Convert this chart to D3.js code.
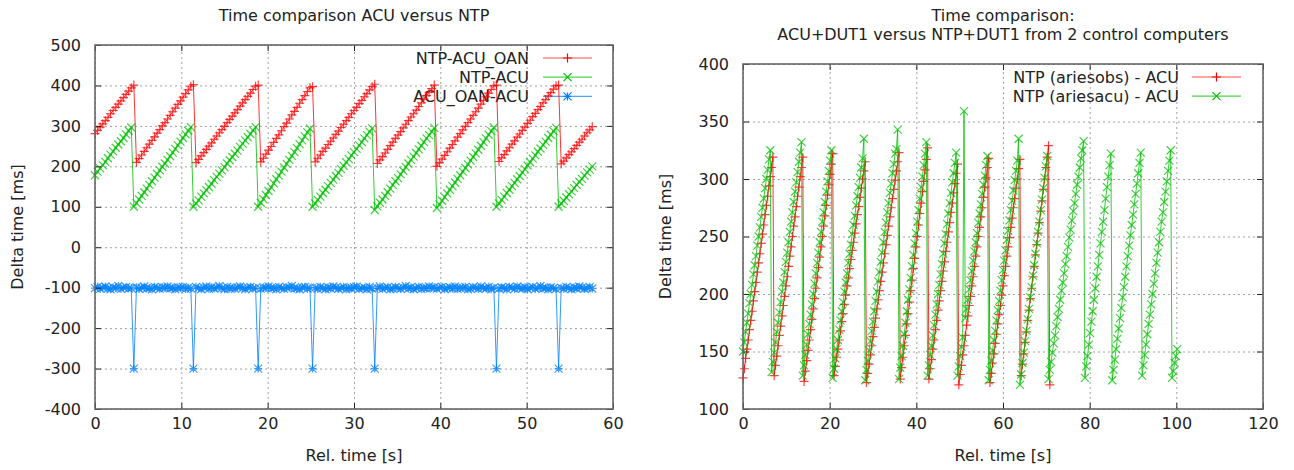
<!DOCTYPE html>
<html>
<head>
<meta charset="utf-8">
<script src="https://cdn.jsdelivr.net/npm/d3@7"></script>
<style>
  body { margin: 0; background: #fff; }
  svg text { font-family: "DejaVu Sans", sans-serif; fill: #222; }
</style>
</head>
<body>
<svg id="chart" width="1294" height="470"></svg>
<script>
// Sample times [s], common to every logged series
const sampleTime = [
  0,0.3,0.6,0.9,1.2,1.5,1.8,2.1,2.4,2.7,
  3,3.3,3.6,3.9,4.2,4.5,4.8,5.1,5.4,5.7,
  6,6.3,6.6,6.9,7.2,7.5,7.8,8.1,8.4,8.7,
  9,9.3,9.6,9.9,10.2,10.5,10.8,11.1,11.4,11.7,
  12,12.3,12.6,12.9,13.2,13.5,13.8,14.1,14.4,14.7,
  15,15.3,15.6,15.9,16.2,16.5,16.8,17.1,17.4,17.7,
  18,18.3,18.6,18.9,19.2,19.5,19.8,20.1,20.4,20.7,
  21,21.3,21.6,21.9,22.2,22.5,22.8,23.1,23.4,23.7,
  24,24.3,24.6,24.9,25.2,25.5,25.8,26.1,26.4,26.7,
  27,27.3,27.6,27.9,28.2,28.5,28.8,29.1,29.4,29.7,
  30,30.3,30.6,30.9,31.2,31.5,31.8,32.1,32.4,32.7,
  33,33.3,33.6,33.9,34.2,34.5,34.8,35.1,35.4,35.7,
  36,36.3,36.6,36.9,37.2,37.5,37.8,38.1,38.4,38.7,
  39,39.3,39.6,39.9,40.2,40.5,40.8,41.1,41.4,41.7,
  42,42.3,42.6,42.9,43.2,43.5,43.8,44.1,44.4,44.7,
  45,45.3,45.6,45.9,46.2,46.5,46.8,47.1,47.4,47.7,
  48,48.3,48.6,48.9,49.2,49.5,49.8,50.1,50.4,50.7,
  51,51.3,51.6,51.9,52.2,52.5,52.8,53.1,53.4,53.7,
  54,54.3,54.6,54.9,55.2,55.5,55.8,56.1,56.4,56.7,
  57,57.3,57.6,57.9,58.2,58.5,58.8,59.1,59.4,59.7,
  60,60.3,60.6,60.9,61.2,61.5,61.8,62.1,62.4,62.7,
  63,63.3,63.6,63.9,64.2,64.5,64.8,65.1,65.4,65.7,
  66,66.3,66.6,66.9,67.2,67.5,67.8,68.1,68.4,68.7,
  69,69.3,69.6,69.9,70.2,70.5,70.8,71.1,71.4,71.7,
  72,72.3,72.6,72.9,73.2,73.5,73.8,74.1,74.4,74.7,
  75,75.3,75.6,75.9,76.2,76.5,76.8,77.1,77.4,77.7,
  78,78.3,78.6,78.9,79.2,79.5,79.8,80.1,80.4,80.7,
  81,81.3,81.6,81.9,82.2,82.5,82.8,83.1,83.4,83.7,
  84,84.3,84.6,84.9,85.2,85.5,85.8,86.1,86.4,86.7,
  87,87.3,87.6,87.9,88.2,88.5,88.8,89.1,89.4,89.7,
  90,90.3,90.6,90.9,91.2,91.5,91.8,92.1,92.4,92.7,
  93,93.3,93.6,93.9,94.2,94.5,94.8,95.1,95.4,95.7,
  96,96.3,96.6,96.9,97.2,97.5,97.8,98.1,98.4,98.7,
  99,99.3,99.6,99.9,100.2
];

// Left panel: NTP-ACU_OAN [ms]
const ntpAcuOan = [
  281,289,297,305,313,321,330,338,346,354,362,370,378,386,394,
  401,
  210,219,228,237,246,255,264,273,282,291,300,308,317,326,335,344,353,362,371,380,389,398,
  402,
  209,217,226,234,242,250,258,267,275,283,291,299,308,316,324,332,340,349,357,365,373,381,390,398,
  401,
  211,220,230,240,249,259,269,278,288,298,307,317,327,336,346,356,365,375,385,394,
  397,
  211,220,228,237,245,254,262,270,279,287,296,304,313,321,330,338,346,355,363,372,380,389,397,
  403,
  207,216,224,233,242,251,260,269,277,286,295,304,313,322,330,339,348,357,366,375,383,392,401,
  200,209,218,227,236,245,254,263,272,281,290,299,308,317,326,335,344,354,363,372,381,390,399,
  401,
  212,221,229,238,246,255,263,272,280,289,297,306,314,323,331,340,348,357,365,374,382,391,399,
  401,
  206,213,221,229,236,244,252,260,267,275,283,290,298
];

// Left panel: NTP-ACU [ms]
const ntpAcu = [
  178,187,195,203,211,220,229,237,246,254,262,270,279,288,296,
  100,109,118,127,136,145,154,163,172,181,190,199,207,216,225,234,243,252,261,270,279,288,297,
  100,108,116,125,133,141,149,157,166,174,182,190,198,207,215,223,231,239,248,256,264,272,280,289,297,
  100,110,119,129,139,148,158,168,177,187,197,206,216,226,235,245,255,264,274,284,293,
  100,108,117,125,134,142,151,159,167,176,184,193,201,210,218,227,235,243,252,260,269,277,286,294,
  92,101,110,118,127,136,145,154,163,171,180,189,198,207,216,224,233,242,251,260,269,277,286,295,
  97,106,115,124,133,142,151,160,169,178,187,196,205,214,223,232,241,251,260,269,278,287,296,
  100,108,117,125,134,142,151,159,168,176,185,193,202,210,219,227,236,244,253,261,270,278,287,295,
  100,108,115,123,131,138,146,154,162,169,177,185,192,200
];

// Left panel: ACU_OAN-ACU [ms]
const acuOanAcu = [
  -101,-98,-103,-100,-97,-102,-104,-99,-101,-96,-103,-100,-98,-102,-101,
  -300,
  -99,-103,-100,-97,-102,-101,-104,-98,-100,-103,-99,-101,-97,-102,-100,-104,-99,-101,-98,-103,-100,-102,
  -300,
  -98,-101,-104,-100,-97,-103,-99,-102,-100,-96,-101,-104,-98,-102,-100,-103,-99,-97,-101,-104,-100,-98,-102,-101,
  -300,
  -103,-99,-101,-97,-102,-100,-104,-98,-101,-103,-99,-100,-96,-102,-101,-104,-99,-98,-103,-100,
  -300,
  -100,-103,-98,-101,-104,-99,-102,-97,-100,-103,-101,-98,-104,-100,-102,-99,-97,-103,-101,-100,-104,-98,-102,
  -300,
  -101,-97,-103,-100,-99,-104,-102,-98,-101,-103,-100,-96,-102,-99,-104,-101,-98,-103,-100,-102,-97,-101,-99,
  -103,-100,-98,-104,-101,-99,-102,-97,-103,-100,-101,-98,-104,-102,-99,-100,-103,-97,-101,-102,-98,-104,-100,
  -300,
  -102,-99,-101,-104,-98,-100,-103,-97,-101,-102,-99,-104,-100,-98,-103,-101,-96,-102,-100,-104,-99,-101,-103,
  -300,
  -100,-103,-98,-101,-104,-99,-102,-97,-100,-103,-101,-98,-102
];

// Right panel: NTP (ariesobs) - ACU [ms]
const ariesobsAcu = [
  127,135,144,152,160,169,177,185,194,202,210,219,227,235,244,252,260,269,277,285,294,302,310,319,
  129,138,146,155,164,172,181,190,198,207,215,224,233,241,250,259,267,276,285,293,302,310,319,
  124,133,142,151,160,169,178,187,196,205,214,223,232,241,250,259,268,277,286,295,304,313,322,
  129,137,145,152,160,168,176,183,191,199,207,214,222,230,238,245,253,261,269,276,284,292,300,307,315,
  123,131,139,147,155,163,171,179,187,195,203,211,219,227,235,243,251,259,267,275,283,291,299,307,315,323,
  126,136,145,155,164,174,183,193,203,212,222,231,241,250,260,270,279,289,298,308,317,327,
  126,135,143,152,160,169,177,186,194,203,211,220,228,237,245,254,262,271,279,288,296,305,313,
  121,130,138,147,155,164,173,181,190,198,207,215,224,233,241,250,258,267,275,284,293,301,310,318,
  123,131,140,148,157,165,174,182,190,199,207,216,224,233,241,249,258,266,275,283,292,300,309,317,
  129,139,148,158,167,177,186,196,205,215,224,234,243,253,262,272,281,291,300,310,319,329,
  121
];

// Right panel: NTP (ariesacu) - ACU [ms]
const ariesacuAcu = [
  150,158,167,175,183,192,200,208,217,225,233,242,250,258,267,275,283,292,300,308,317,325,
  132,141,149,158,167,175,184,193,202,210,219,228,236,245,254,263,271,280,289,297,306,315,323,332,
  129,138,147,156,165,174,182,191,200,209,218,227,236,245,254,263,271,280,289,298,307,316,325,
  127,135,144,152,160,169,177,185,193,202,210,218,227,235,243,252,260,268,277,285,293,301,310,318,335,
  125,134,142,151,159,168,176,185,194,202,211,219,228,236,245,254,262,271,279,288,296,305,313,322,326,343,
  126,136,146,155,165,175,185,195,204,214,224,234,244,253,263,273,283,293,302,312,322,332,
  129,138,147,155,164,173,182,191,200,208,217,226,235,244,252,261,270,279,288,297,305,314,323,
  129,137,146,154,162,359,179,187,195,204,212,220,229,237,245,253,262,270,278,287,295,303,312,320,
  125,134,142,151,160,168,177,186,194,203,212,221,229,238,247,255,264,273,281,290,299,307,316,335,
  121,130,140,149,159,168,178,187,197,206,216,225,235,244,254,263,273,282,292,301,311,320,
  126,134,141,149,157,164,172,180,187,195,203,210,218,226,233,241,249,256,264,272,279,287,295,302,310,318,325,333,
  127,137,146,156,166,176,185,195,205,215,224,234,244,254,263,273,283,293,302,312,322,
  125,134,143,152,161,170,179,188,197,206,215,224,233,242,251,260,269,278,287,296,305,314,323,
  129,138,147,156,165,174,182,191,200,209,218,227,236,245,254,263,271,280,289,298,307,316,325,
  127,133,140,146,152
];

// Axis ticks
const leftXTicks = [0, 10, 20, 30, 40, 50, 60];
const leftYTicks = [-400, -300, -200, -100, 0, 100, 200, 300, 400, 500];
const rightXTicks = [0, 20, 40, 60, 80, 100, 120];
const rightYTicks = [100, 150, 200, 250, 300, 350, 400];

// Legend entries
const leftNames = ["NTP-ACU_OAN", "NTP-ACU", "ACU_OAN-ACU"];
const rightNames = ["NTP (ariesobs) - ACU", "NTP (ariesacu) - ACU"];

const RED = "#ff0000", GREEN = "#00c000", BLUE = "#0080ff";
const FONT = "'DejaVu Sans', sans-serif";
const FS = 16;

const svg = d3.select("#chart");

// gnuplot-style point symbols
const symbols = {
  plus: r => `M${-r},0H${r}M0,${-r}V${r}`,
  cross: r => `M${-r},${-r}L${r},${r}M${-r},${r}L${r},${-r}`,
  star: r => `M${-r},0H${r}M0,${-r}V${r}M${-r},${-r}L${r},${r}M${-r},${r}L${r},${-r}`
};

function drawPanel(p) {
  const x = d3.scaleLinear().domain(p.xDomain).range([p.left, p.right]);
  const y = d3.scaleLinear().domain(p.yDomain).range([p.bottom, p.top]);
  const w = p.right - p.left, h = p.bottom - p.top;
  const g = svg.append("g");
  const fmt = d => String(d);

  // dotted grid
  const grid = g.append("g");
  grid.append("g").attr("transform", `translate(0,${p.bottom})`)
    .call(d3.axisBottom(x).tickValues(p.xTicks).tickSize(-h).tickFormat(""));
  grid.append("g").attr("transform", `translate(${p.left},0)`)
    .call(d3.axisLeft(y).tickValues(p.yTicks).tickSize(-w).tickFormat(""));
  grid.selectAll(".domain").remove();
  grid.selectAll("line").attr("stroke", "#a0a0a0").attr("stroke-dasharray", "2,3");

  // legend
  p.series.forEach((s, i) => {
    const ly = p.legend.y0 + i * p.legend.dy;
    g.append("text").attr("x", p.legend.textRight).attr("y", ly)
      .attr("dy", "0.36em").attr("text-anchor", "end")
      .attr("font-size", FS).text(s.name);
    g.append("line").attr("x1", p.legend.x1).attr("x2", p.legend.x2)
      .attr("y1", ly).attr("y2", ly).attr("stroke", s.color)
      .attr("stroke-width", 1.2).attr("stroke-opacity", 0.7);
    g.append("path").attr("d", symbols[s.symbol](s.size))
      .attr("transform", `translate(${(p.legend.x1 + p.legend.x2) / 2},${ly})`)
      .attr("stroke", s.color).attr("stroke-width", 1.2).attr("fill", "none");
  });

  // data: connecting lines plus point symbols
  const line = d3.line().x(d => x(d[0])).y(d => y(d[1]));
  p.series.forEach(s => {
    const pts = s.values.map((v, i) => [sampleTime[i], v]);
    const sg = g.append("g");
    sg.append("path").datum(pts).attr("d", line).attr("fill", "none")
      .attr("stroke", s.color).attr("stroke-width", 1).attr("stroke-opacity", 0.8);
    sg.selectAll(".pt").data(pts).join("path").attr("class", "pt")
      .attr("transform", d => `translate(${x(d[0])},${y(d[1])})`)
      .attr("d", symbols[s.symbol](s.size))
      .attr("stroke", s.color).attr("stroke-width", 1.2)
      .attr("stroke-opacity", 0.75).attr("fill", "none");
  });

  // axes with inward ticks on all four sides
  const ax = g.append("g").attr("font-family", FONT).attr("font-size", FS);
  ax.append("g").attr("transform", `translate(0,${p.bottom})`)
    .call(d3.axisBottom(x).tickValues(p.xTicks).tickSize(-6).tickPadding(9).tickFormat(fmt));
  ax.append("g").attr("transform", `translate(0,${p.top})`)
    .call(d3.axisTop(x).tickValues(p.xTicks).tickSize(-6).tickFormat(""));
  ax.append("g").attr("transform", `translate(${p.left},0)`)
    .call(d3.axisLeft(y).tickValues(p.yTicks).tickSize(-6).tickPadding(14).tickFormat(fmt));
  ax.append("g").attr("transform", `translate(${p.right},0)`)
    .call(d3.axisRight(y).tickValues(p.yTicks).tickSize(-6).tickFormat(""));
  ax.selectAll(".domain").remove();
  ax.selectAll("line").attr("stroke", "#222");
  ax.selectAll("text").attr("font-family", FONT).attr("font-size", FS).attr("fill", "#222");

  g.append("rect").attr("x", p.left).attr("y", p.top).attr("width", w).attr("height", h)
    .attr("fill", "none").attr("stroke", "#666").attr("stroke-width", 1.6);

  // titles and axis labels
  const cx = (p.left + p.right) / 2;
  p.title.forEach((t, i) => {
    g.append("text").attr("x", cx).attr("y", 21 + i * 19)
      .attr("text-anchor", "middle").attr("font-size", FS).text(t);
  });
  g.append("text").attr("x", cx).attr("y", 461)
    .attr("text-anchor", "middle").attr("font-size", FS).text("Rel. time [s]");
  g.append("text")
    .attr("transform", `translate(${p.yLabelX},${(p.top + p.bottom) / 2}) rotate(-90)`)
    .attr("text-anchor", "middle").attr("font-size", FS).text("Delta time [ms]");
}

drawPanel({
  left: 95, right: 613, top: 45, bottom: 409,
  xDomain: [0, 60], yDomain: [-400, 500],
  xTicks: leftXTicks, yTicks: leftYTicks,
  title: ["Time comparison ACU versus NTP"], yLabelX: 23,
  legend: { textRight: 529, x1: 543, x2: 592, y0: 58, dy: 19.2 },
  series: [
    { name: leftNames[0], values: ntpAcuOan, color: RED, symbol: "plus", size: 4.5 },
    { name: leftNames[1], values: ntpAcu, color: GREEN, symbol: "cross", size: 4 },
    { name: leftNames[2], values: acuOanAcu, color: BLUE, symbol: "star", size: 4 }
  ]
});

drawPanel({
  left: 743, right: 1263, top: 64, bottom: 409,
  xDomain: [0, 120], yDomain: [100, 400],
  xTicks: rightXTicks, yTicks: rightYTicks,
  title: ["Time comparison:", "ACU+DUT1 versus NTP+DUT1 from 2 control computers"],
  yLabelX: 671,
  legend: { textRight: 1179, x1: 1192, x2: 1241, y0: 77, dy: 19.2 },
  series: [
    { name: rightNames[0], values: ariesobsAcu, color: RED, symbol: "plus", size: 4.5 },
    { name: rightNames[1], values: ariesacuAcu, color: GREEN, symbol: "cross", size: 4 }
  ]
});
</script>
</body>
</html>
